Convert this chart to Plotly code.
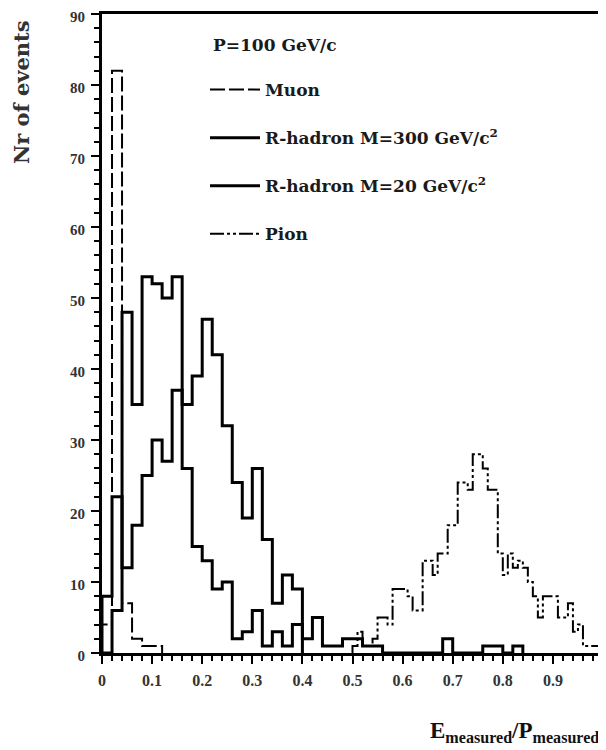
import numpy as np
import plotly.graph_objects as go

# ---------------- data ----------------
series_names = ["Muon", "R-hadron M=300 GeV/c<sup>2</sup>", "R-hadron M=20 GeV/c<sup>2</sup>", "Pion"]
legend_title = "P=100 GeV/c"

muon_start, muon_width = 0.0, 0.02
muon_counts = [4, 82, 7, 2, 1, 1]

rh300_start, rh300_width = 0.0, 0.02
rh300_counts = [0, 6, 48, 35, 53, 52, 50, 53, 26, 15, 13, 9, 10, 2, 3, 6, 1, 3, 1, 4]

rh20_start, rh20_width = 0.0, 0.02
rh20_counts = [8, 22, 12, 18, 25, 30, 27, 37, 35, 39, 47, 42, 32, 24, 19, 26, 16, 7, 11, 9,
               2, 5, 1, 1, 2, 2, 1, 1, 0, 0, 0, 0, 0, 0, 2, 0, 0, 0, 1, 1, 0, 1]

pion_start, pion_width = 0.50, 0.01
pion_counts = [1, 3, 1, 1, 2, 5, 5, 4, 9, 9,
               9, 8, 6, 6, 13, 13, 11, 14, 14, 18,
               18, 24, 24, 23, 28, 28, 26, 23, 23, 14,
               11, 14, 12, 13, 12, 10, 8, 5, 8, 8,
               8, 5, 5, 7, 3, 4, 1, 1, 1, 1]

x_tickvals = [0, 0.1, 0.2, 0.3, 0.4, 0.5, 0.6, 0.7, 0.8, 0.9, 1.0]
x_ticktext = ["0", "0.1", "0.2", "0.3", "0.4", "0.5", "0.6", "0.7", "0.8", "0.9", "1"]
y_tickvals = [0, 10, 20, 30, 40, 50, 60, 70, 80, 90]


def step_xy(start, width, counts):
    edges = start + width * np.arange(len(counts) + 1)
    x = np.concatenate([[edges[0]], edges])
    y = np.concatenate([[0], np.asarray(counts, float), [0]])
    return x, y


SERIF = "Liberation Serif"
WIDE = "DejaVu Serif"

# page body has an 8px margin: figure coords = screen coords - 8
L, R, T, B = 94, 595, 6, 645
W, H = 606, 750
PW, PH = R - L, B - T


def px(xs):
    return (xs - 8 - L) / PW


def py(ys):
    return (B - (ys - 8)) / PH


fig = go.Figure()

styles = [
    dict(color="black", width=2, dash="15px,4px"),
    dict(color="black", width=3),
    dict(color="black", width=3),
    dict(color="black", width=2, dash="14px,3px,3px,3px,3px,3px"),
]
data = [(muon_start, muon_width, muon_counts),
        (rh300_start, rh300_width, rh300_counts),
        (rh20_start, rh20_width, rh20_counts),
        (pion_start, pion_width, pion_counts)]

for i, ((s, w, c), name, st) in enumerate(zip(data, series_names, styles)):
    x, y = step_xy(s, w, c)
    fig.add_trace(go.Scatter(x=x, y=y, mode="lines", line_shape="hv", line=st,
                             name=name, legendgroup=f"g{i}", hoverinfo="skip"))

fig.update_layout(
    width=W, height=H,
    margin=dict(l=L, r=W - R, t=T, b=H - B, autoexpand=False),
    paper_bgcolor="white", plot_bgcolor="white",
    font=dict(family=SERIF, color="#222"),
    showlegend=True,
    legend=dict(
        x=px(205), y=py(72), xanchor="left", yanchor="top",
        bgcolor="rgba(0,0,0,0)",
        font=dict(family=WIDE, size=17, weight="bold", color="#1a1a1a"),
        tracegroupgap=23, itemwidth=50,
    ),
    xaxis=dict(
        range=[0, 1.0], showgrid=False, zeroline=False, automargin=False,
        showline=True, linecolor="black", linewidth=3, mirror=True,
        ticks="outside", ticklen=8, tickwidth=2, tickcolor="black",
        tickvals=x_tickvals, ticktext=x_ticktext, ticklabelstandoff=3,
        ticklabeloverflow="allow",
        tickfont=dict(family=SERIF, size=16, weight="bold", color="#333"),
        minor=dict(ticks="outside", ticklen=5, tickwidth=2, tickcolor="black", dtick=0.02, showgrid=False),
    ),
    yaxis=dict(
        range=[0, 90], showgrid=False, zeroline=False, automargin=False,
        showline=True, linecolor="black", linewidth=3, mirror=False,
        ticks="outside", ticklen=8, tickwidth=2, tickcolor="black",
        tickvals=y_tickvals, ticklabelstandoff=3, ticklabeloverflow="allow",
        ticklabelshift=3,
        tickfont=dict(family=SERIF, size=15, weight="bold", color="#333"),
        minor=dict(ticks="outside", ticklen=5, tickwidth=2, tickcolor="black", dtick=2, showgrid=False),
    ),
    shapes=[dict(type="line", xref="paper", yref="paper", x0=1, x1=1, y0=0, y1=1,
                 line=dict(color="#444", width=1))],
    annotations=[
        dict(text=legend_title, xref="paper", yref="paper", x=px(211), y=py(45),
             xanchor="left", yanchor="middle", showarrow=False,
             font=dict(family=WIDE, size=17, weight="bold", color="#1a1a1a")),
        dict(text="Nr of events", xref="paper", yref="paper", x=px(22), y=py(92),
             xanchor="center", yanchor="middle", textangle=-90, showarrow=False,
             font=dict(family=WIDE, size=21, weight="bold", color="#333")),
        dict(text="E<sub>measured</sub>/P<sub>measured</sub>", xref="paper", yref="paper",
             x=px(601), y=py(748), xanchor="right", yanchor="bottom",
             showarrow=False, font=dict(family=SERIF, size=23, weight="bold", color="#111")),
    ],
)

fig.write_html("out.html")
